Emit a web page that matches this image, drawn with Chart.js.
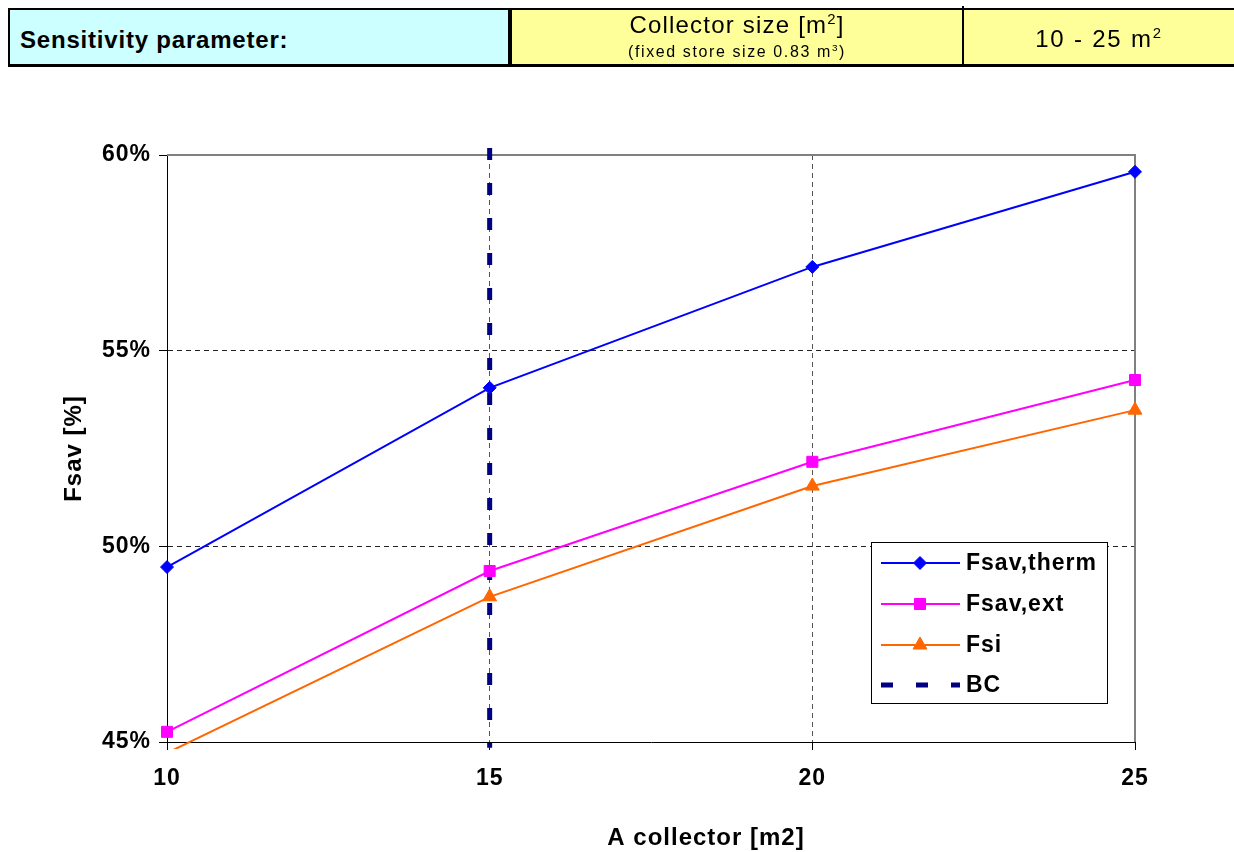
<!DOCTYPE html>
<html>
<head>
<meta charset="utf-8">
<script src="https://cdn.jsdelivr.net/npm/chart.js@4.4.0/dist/chart.umd.min.js"></script>
<style>
  html, body { margin: 0; padding: 0; background: #fff; }
  #wrap { position: relative; width: 1234px; height: 852px; overflow: hidden;
          font-family: "Liberation Sans", Arial, sans-serif; color: #000; }
  #chart { position: absolute; left: 0; top: 0; }
  .blk { position: absolute; background: #000; }
  .cell { position: absolute; }
  .txt { position: absolute; white-space: nowrap; line-height: 1; }
  sup { font-size: 62%; vertical-align: 0; position: relative; top: -0.6em; }
</style>
</head>
<body>
<div id="wrap">
  <canvas id="chart" width="1234" height="852"></canvas>

  <!-- header table -->
  <div class="cell" style="left:10px;top:10px;width:498px;height:54px;background:#ccffff;"></div>
  <div class="cell" style="left:512px;top:10px;width:450px;height:54px;background:#ffff99;"></div>
  <div class="cell" style="left:964px;top:10px;width:270px;height:54px;background:#ffff99;"></div>
  <div class="blk" style="left:8px;top:8px;width:1226px;height:2px;"></div>
  <div class="blk" style="left:8px;top:64px;width:1226px;height:3px;"></div>
  <div class="blk" style="left:8px;top:8px;width:2px;height:59px;"></div>
  <div class="blk" style="left:508px;top:8px;width:4px;height:59px;"></div>
  <div class="blk" style="left:962px;top:6px;width:2px;height:61px;"></div>

  <div class="txt" style="left:20px;top:28px;font-size:24px;font-weight:bold;letter-spacing:0.8px;">Sensitivity parameter:</div>
  <div class="txt" style="left:512px;width:450px;text-align:center;top:13px;font-size:24px;letter-spacing:1.2px;">Collector size [m<sup>2</sup>]</div>
  <div class="txt" style="left:512px;width:450px;text-align:center;top:44px;font-size:16px;letter-spacing:1.6px;">(fixed store size 0.83 m<sup>3</sup>)</div>
  <div class="txt" style="left:964px;width:270px;text-align:center;top:27px;font-size:24px;letter-spacing:1.8px;">10 - 25 m<sup>2</sup></div>
</div>

<script>
// ---- data ----
const xValues    = [10, 15, 20, 25];
const fsavTherm  = [49.47, 54.05, 57.14, 59.57];
const fsavExt    = [45.26, 49.37, 52.16, 54.25];
const fsi        = [44.72, 48.71, 51.54, 53.48];
const bcX        = [15, 15];
const bcY        = [60.18, 44.85];
const seriesNames = ['Fsav,therm', 'Fsav,ext', 'Fsi', 'BC'];
const xTicks     = [10, 15, 20, 25];
const yTicks     = [45, 50, 55, 60];
const yTickLabels = ['45%', '50%', '55%', '60%'];
const xTitle = 'A collector [m2]';
const yTitle = 'Fsav [%]';

const FONT = '"Liberation Sans", Arial, sans-serif';
const SPACING = '1px';
const Y_MIN = 45, Y_MAX = 60;

const pts = (xs, ys) => xs.map((x, i) => ({ x: x, y: ys[i] }));

const seriesStyles = [
  { color: '#0000ff', pointStyle: 'rectRot',  radius: 6.5 },
  { color: '#ff00ff', pointStyle: 'rect',     radius: 7.8 },
  { color: '#ff6600', pointStyle: 'triangle', radius: 8 },
];

function lineDataset(name, data, st) {
  return {
    label: name,
    data: data,
    borderColor: st.color,
    backgroundColor: st.color,
    borderWidth: 2,
    pointStyle: st.pointStyle,
    pointRadius: (c) => (c.raw && (c.raw.y < Y_MIN || c.raw.y > Y_MAX)) ? 0 : st.radius,
    pointBorderWidth: 1,
    pointBorderColor: st.color,
    pointBackgroundColor: st.color,
    tension: 0,
    clip: { left: 10, right: 10, top: 10, bottom: 7 },
  };
}

const datasets = [
  lineDataset(seriesNames[0], pts(xValues, fsavTherm), seriesStyles[0]),
  lineDataset(seriesNames[1], pts(xValues, fsavExt), seriesStyles[1]),
  lineDataset(seriesNames[2], pts(xValues, fsi), seriesStyles[2]),
  {
    label: seriesNames[3],
    data: pts(bcX, bcY),
    borderColor: '#000080',
    backgroundColor: '#000080',
    borderWidth: 5,
    borderDash: [12, 23],
    borderCapStyle: 'butt',
    pointRadius: 0,
    clip: false,
  },
];

// letter spacing to mimic the wide Excel text rendering
const spacingPlugin = {
  id: 'spacing',
  beforeUpdate(chart) { chart.ctx.letterSpacing = SPACING; },
  beforeDraw(chart) { chart.ctx.letterSpacing = SPACING; },
};

// gray plot frame (top & right)
const framePlugin = {
  id: 'frame',
  beforeDatasetsDraw(chart) {
    const { ctx, chartArea: a } = chart;
    ctx.save();
    ctx.strokeStyle = '#808080';
    ctx.lineWidth = 2;
    ctx.beginPath();
    ctx.moveTo(a.left, a.top);
    ctx.lineTo(a.right, a.top);
    ctx.lineTo(a.right, a.bottom);
    ctx.stroke();
    ctx.restore();
  }
};

// x-axis title placed like the reference + legend box inside the plot
const overlayPlugin = {
  id: 'overlay',
  afterDraw(chart) {
    const ctx = chart.ctx;
    ctx.save();
    ctx.letterSpacing = SPACING;
    ctx.fillStyle = '#000';
    ctx.font = 'bold 24px ' + FONT;
    ctx.textAlign = 'center';
    ctx.textBaseline = 'middle';
    ctx.fillText(xTitle, 706, 838);

    // legend
    const bx = 871, by = 542, bw = 236, bh = 161;
    ctx.fillStyle = '#fff';
    ctx.fillRect(bx, by, bw, bh);
    ctx.strokeStyle = '#000';
    ctx.lineWidth = 1;
    ctx.strokeRect(bx + 0.5, by + 0.5, bw, bh);
    const rowY = [563, 604, 645, 685];
    chart.data.datasets.forEach((ds, i) => {
      const y = rowY[i];
      ctx.save();
      ctx.strokeStyle = ds.borderColor;
      ctx.lineWidth = ds.borderWidth;
      ctx.lineCap = 'butt';
      ctx.setLineDash(ds.borderDash || []);
      ctx.beginPath();
      ctx.moveTo(881, y);
      ctx.lineTo(960, y);
      ctx.stroke();
      ctx.setLineDash([]);
      if (i < seriesStyles.length) {
        const st = seriesStyles[i];
        ctx.fillStyle = st.color;
        ctx.strokeStyle = st.color;
        ctx.lineWidth = 1;
        Chart.helpers.drawPoint(ctx, { pointStyle: st.pointStyle, radius: st.radius, rotation: 0, borderWidth: 1 }, 920, y);
      }
      ctx.restore();
      ctx.fillStyle = '#000';
      ctx.font = 'bold 23px ' + FONT;
      ctx.textAlign = 'left';
      ctx.textBaseline = 'middle';
      ctx.fillText(ds.label, 966, y + 1);
    });
    ctx.restore();
  }
};

new Chart(document.getElementById('chart'), {
  type: 'line',
  data: { datasets: datasets },
  plugins: [spacingPlugin, framePlugin, overlayPlugin],
  options: {
    responsive: false,
    animation: false,
    devicePixelRatio: 1,
    layout: { padding: { left: 0, top: 155, right: 99, bottom: 0 } },
    plugins: { legend: { display: false }, title: { display: false }, tooltip: { enabled: false } },
    scales: {
      x: {
        type: 'linear',
        min: 10, max: 25,
        afterBuildTicks: (s) => { s.ticks = xTicks.map(v => ({ value: v })); },
        afterFit: (s) => { s.height = 110; },
        ticks: {
          color: '#000',
          font: { family: FONT, size: 23, weight: 'bold' },
          padding: 15,
          maxRotation: 0,
          autoSkip: false,
          callback: (v) => String(v),
        },
        grid: {
          color: (c) => (c.tick && c.tick.value > xTicks[0] && c.tick.value < xTicks[xTicks.length - 1]) ? '#555555' : 'rgba(0,0,0,0)',
          lineWidth: 1,
          tickLength: 8,
          tickColor: '#000',
          tickWidth: 1,
          tickBorderDash: [],
        },
        border: { display: true, color: '#000', width: 1, dash: [5, 4] },
      },
      y: {
        type: 'linear',
        min: Y_MIN, max: Y_MAX,
        afterBuildTicks: (s) => { s.ticks = yTicks.map(v => ({ value: v })); },
        afterFit: (s) => { s.width = 167; },
        ticks: {
          color: '#000',
          font: { family: FONT, size: 23, weight: 'bold' },
          padding: 8,
          autoSkip: false,
          callback: (v, i) => yTickLabels[i],
        },
        grid: {
          color: (c) => (c.tick && c.tick.value > yTicks[0] && c.tick.value < yTicks[yTicks.length - 1]) ? '#222222' : 'rgba(0,0,0,0)',
          lineWidth: 1,
          tickLength: 8,
          tickColor: '#000',
          tickWidth: 1,
          tickBorderDash: [],
        },
        border: { display: true, color: '#000', width: 1, dash: [5, 4] },
        title: {
          display: true,
          text: yTitle,
          color: '#000',
          font: { family: FONT, size: 24, weight: 'bold' },
          padding: { top: 60, bottom: 0 },
        },
      },
    },
  },
});
</script>
</body>
</html>
